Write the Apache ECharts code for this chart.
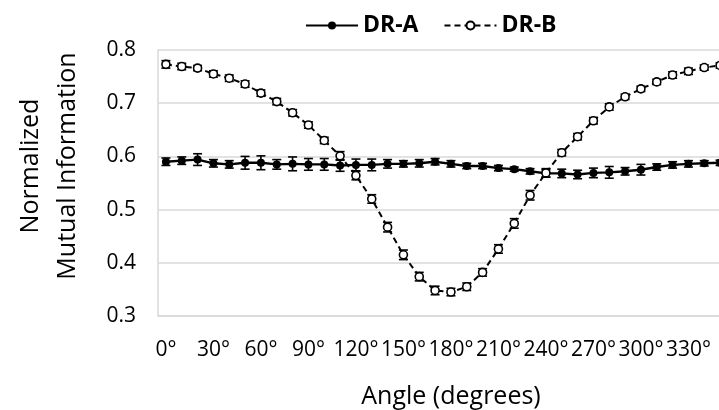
<!DOCTYPE html>
<html>
<head>
<meta charset="utf-8">
<script src="https://cdn.jsdelivr.net/npm/echarts@6/dist/echarts.min.js"></script>
<style>
  html, body { margin: 0; padding: 0; background: #fff; }
  #chart { width: 719px; height: 410px; }
</style>
</head>
<body>
<div id="chart"></div>
<script>
// angles, 0..350 step 10
const angles = [0, 10, 20, 30, 40, 50, 60, 70, 80, 90, 100, 110, 120, 130, 140, 150, 160, 170,
  180, 190, 200, 210, 220, 230, 240, 250, 260, 270, 280, 290, 300, 310, 320, 330, 340, 350];

const drA = [0.590, 0.592, 0.594, 0.587, 0.585, 0.588, 0.588, 0.585, 0.586, 0.585, 0.585, 0.583,
  0.584, 0.584, 0.586, 0.586, 0.587, 0.590, 0.586, 0.582, 0.582, 0.578, 0.576, 0.572,
  0.568, 0.568, 0.566, 0.569, 0.570, 0.572, 0.575, 0.580, 0.584, 0.586, 0.587, 0.588];
const drAErr = [0.007, 0.007, 0.011, 0.007, 0.007, 0.012, 0.013, 0.009, 0.013, 0.011, 0.011, 0.011,
  0.011, 0.011, 0.008, 0.006, 0.007, 0.006, 0.006, 0.005, 0.005, 0.005, 0.004, 0.005,
  0.007, 0.008, 0.008, 0.009, 0.011, 0.007, 0.010, 0.006, 0.006, 0.006, 0.005, 0.005];

const drB = [0.773, 0.769, 0.766, 0.755, 0.747, 0.736, 0.719, 0.703, 0.682, 0.659, 0.630, 0.601,
  0.564, 0.520, 0.467, 0.415, 0.374, 0.348, 0.345, 0.355, 0.382, 0.426, 0.474, 0.527,
  0.569, 0.607, 0.637, 0.667, 0.693, 0.712, 0.727, 0.740, 0.753, 0.760, 0.767, 0.771];
const drBErr = [0.007, 0.006, 0.005, 0.006, 0.006, 0.006, 0.006, 0.006, 0.006, 0.006, 0.006, 0.008,
  0.008, 0.008, 0.009, 0.009, 0.008, 0.008, 0.007, 0.007, 0.007, 0.008, 0.009, 0.009,
  0.008, 0.006, 0.006, 0.006, 0.006, 0.005, 0.005, 0.005, 0.006, 0.006, 0.005, 0.005];

const yTicks = { min: 0.3, max: 0.8, interval: 0.1 };

const FONT = '"Open Sans", "Noto Sans", sans-serif';

function errData(vals, errs) {
  return vals.map((v, i) => [i, v - errs[i], v + errs[i]]);
}

// draws vertical error bar with caps
function errorBar(params, api) {
  const x = api.value(0);
  const lo = api.coord([x, api.value(1)]);
  const hi = api.coord([x, api.value(2)]);
  const w = 4.5;
  const style = { stroke: '#000', lineWidth: 1.6 };
  return {
    type: 'group',
    children: [
      { type: 'line', shape: { x1: lo[0], y1: lo[1], x2: hi[0], y2: hi[1] }, style },
      { type: 'line', shape: { x1: lo[0] - w, y1: lo[1], x2: lo[0] + w, y2: lo[1] }, style },
      { type: 'line', shape: { x1: hi[0] - w, y1: hi[1], x2: hi[0] + w, y2: hi[1] }, style }
    ]
  };
}

const chart = echarts.init(document.getElementById('chart'));

const option = {
  animation: false,
  textStyle: { fontFamily: FONT },
  legend: {
    left: 300,
    top: 9,
    itemWidth: 52,
    itemHeight: 10,
    itemGap: 25,
    data: ['DR-A', 'DR-B'],
    textStyle: { fontFamily: FONT, fontSize: 23, fontWeight: 'bold', color: '#000' }
  },
  grid: {
    left: 158,
    top: 50,
    width: 570,
    height: 266,
    containLabel: false,
    outerBoundsMode: 'none'
  },
  xAxis: {
    type: 'category',
    data: angles,
    boundaryGap: true,
    name: 'Angle (degrees)',
    nameLocation: 'middle',
    nameGap: 68,
    nameTextStyle: { fontFamily: FONT, fontSize: 25, color: '#000', padding: [0, 0, 0, 16] },
    axisLine: { lineStyle: { color: '#d9d9d9', width: 1.5 } },
    axisTick: { show: false },
    axisLabel: {
      interval: 2,
      margin: 24,
      fontFamily: FONT,
      fontSize: 21,
      color: '#000',
      formatter: v => v + '°'
    },
    splitLine: { show: false }
  },
  yAxis: {
    type: 'value',
    min: yTicks.min,
    max: yTicks.max,
    interval: yTicks.interval,
    name: 'Normalized\nMutual Information',
    nameLocation: 'middle',
    nameRotate: 90,
    nameGap: 72,
    nameTextStyle: { fontFamily: FONT, fontSize: 25, color: '#000', lineHeight: 37, padding: [0, 0, 0, 34] },
    axisLine: { show: true, lineStyle: { color: '#d9d9d9', width: 1.5 } },
    axisTick: { show: false },
    axisLabel: {
      margin: 22,
      fontFamily: FONT,
      fontSize: 21,
      color: '#000',
      formatter: v => v.toFixed(1)
    },
    splitLine: { lineStyle: { color: '#d9d9d9', width: 1.5 } }
  },
  series: [
    {
      name: 'DR-A err',
      type: 'custom',
      renderItem: errorBar,
      data: errData(drA, drAErr),
      z: 2,
      silent: true
    },
    {
      name: 'DR-B err',
      type: 'custom',
      renderItem: errorBar,
      data: errData(drB, drBErr),
      z: 2,
      silent: true
    },
    {
      name: 'DR-A',
      type: 'line',
      data: drA,
      z: 3,
      symbol: 'circle',
      symbolSize: 8,
      showAllSymbol: true,
      lineStyle: { color: '#000', width: 2.4 },
      itemStyle: { color: '#000' }
    },
    {
      name: 'DR-B',
      type: 'line',
      data: drB,
      z: 4,
      symbol: 'circle',
      symbolSize: 8,
      showAllSymbol: true,
      lineStyle: { color: '#000', width: 2, type: [6, 4] },
      itemStyle: { color: '#fff', borderColor: '#000', borderWidth: 1.6 }
    }
  ]
};

chart.setOption(option);
</script>
</body>
</html>
